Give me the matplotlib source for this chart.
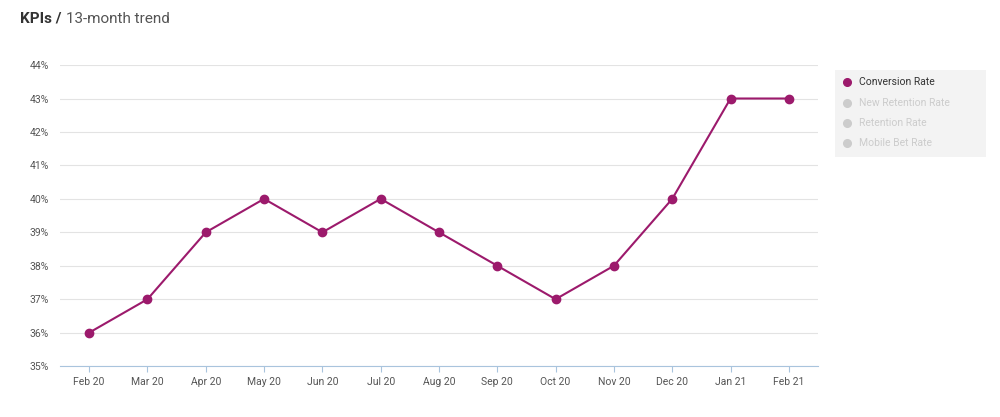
import matplotlib.pyplot as plt
from matplotlib.patches import Rectangle

plt.rcParams['font.family'] = ['Roboto', 'DejaVu Sans']

months = ["Feb 20", "Mar 20", "Apr 20", "May 20", "Jun 20", "Jul 20", "Aug 20",
          "Sep 20", "Oct 20", "Nov 20", "Dec 20", "Jan 21", "Feb 21"]
conversion = [36, 37, 39, 40, 39, 40, 39, 38, 37, 38, 40, 43, 43]
legend_names = ["Conversion Rate", "New Retention Rate", "Retention Rate", "Mobile Bet Rate"]

color = "#9c1a6c"
fig = plt.figure(figsize=(10, 4.17), dpi=100)
ax = fig.add_axes([0.06, 0.122, 0.758, 0.722])
x = list(range(len(months)))
ax.plot(x, conversion, color=color, lw=1.5, marker="o", ms=6, zorder=3)
ax.set_xlim(-0.5, len(months) - 0.5)
ax.set_ylim(35, 44)
ax.set_yticks(range(35, 45))
ax.set_yticklabels([f"{v}%" for v in range(35, 45)])
ax.set_xticks(x)
ax.set_xticklabels(months)
ax.grid(axis="y", color="#e3e3e3", lw=0.8)
ax.set_axisbelow(True)
for s in ["top", "right", "left"]:
    ax.spines[s].set_visible(False)
ax.spines["bottom"].set_color("#a9c4dd")
ax.tick_params(axis="y", length=0, labelsize=7.5, colors="#555555", pad=8)
ax.tick_params(axis="x", length=4, color="#a9c4dd", labelsize=7.5, colors="#555555")

fig.text(0.02, 0.945, "KPIs /", fontsize=11, fontweight="bold", color="#333333")
fig.text(0.066, 0.945, "13-month trend", fontsize=11, color="#555555")

fig.patches.append(Rectangle((0.835, 0.624), 0.151, 0.209, transform=fig.transFigure,
                             facecolor="#f3f3f3", edgecolor="none"))
for i, name in enumerate(legend_names):
    yy = 0.803 - i * 0.049
    c = color if i == 0 else "#cccccc"
    tc = "#333333" if i == 0 else "#cccccc"
    fig.lines.append(plt.Line2D([0.847], [yy], transform=fig.transFigure, marker="o",
                                ms=5.5, color=c, ls="none"))
    fig.text(0.859, yy, name, fontsize=7.5, color=tc, va="center")

fig.savefig("out.png")
